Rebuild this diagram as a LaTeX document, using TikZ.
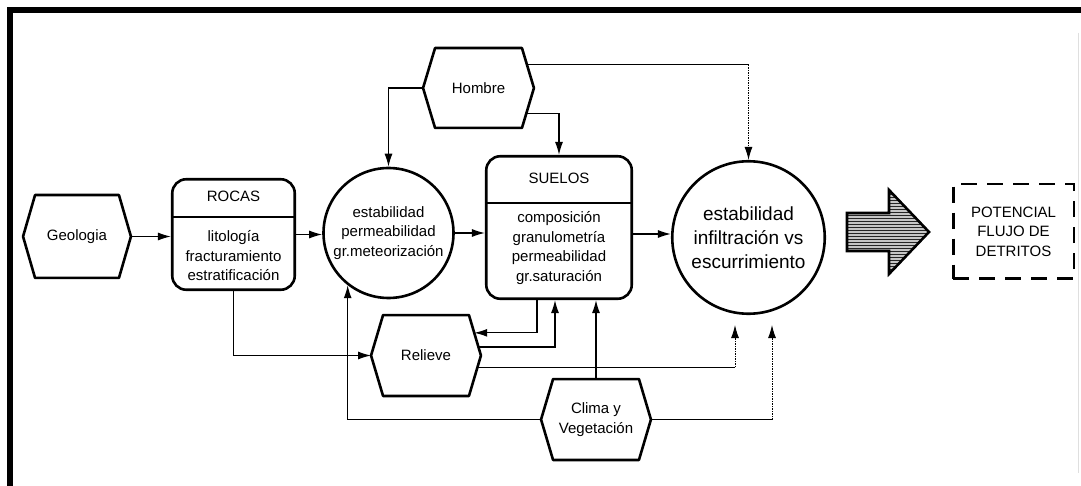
\documentclass[tikz,border=0pt]{standalone}
\usepackage{fontspec}
\setmainfont{Liberation Sans}
\usetikzlibrary{arrows.meta,calc,patterns}

% hexagon outline drawn around a (non-drawn) rectangular node
\newcommand{\hexoutline}[2]{%
  \draw[shapeline] (#1.west) -- ([xshift=#2]#1.north west) -- ([xshift=-#2]#1.north east)
    -- (#1.east) -- ([xshift=-#2]#1.south east) -- ([xshift=#2]#1.south west) -- cycle;}

\tikzset{
  shapeline/.style={line width=2.6pt, line join=round},
  conn/.style={line width=1.2pt},
  arr/.style={conn, -{Latex[length=13pt,width=8pt]}},
  faint/.style={line width=1pt, dash pattern=on 1.5pt off 1pt},
  txt/.style={font=\fontsize{15}{19.5}\selectfont, align=center, inner sep=0pt},
  bigtxt/.style={font=\fontsize{19}{24}\selectfont, align=center, inner sep=0pt},
  hexarea/.style={txt},
  roundbox/.style={draw, shapeline, rounded corners=14pt, inner sep=0pt},
  ring/.style={draw, circle, shapeline, inner sep=0pt},
  dashbox/.style={draw, line width=2.5pt, dash pattern=on 16pt off 10pt, inner sep=0pt, txt},
}

\begin{document}
\begin{tikzpicture}[x=1pt,y=-1pt]
\useasboundingbox (0,0) rectangle (1081,486);

% frame
\draw[line width=6pt] (10,486) -- (10,10) -- (1081,10);
\draw[gray!25, line width=1pt] (1078,33) -- (1078,473);

% hexagonal factors
\node[hexarea, minimum width=107.5pt, minimum height=82.5pt] (geo) at (77,236.5) {Geologia};
\node[hexarea, minimum width=110.5pt, minimum height=79.5pt] (hom) at (478.5,88) {Hombre};
\node[hexarea, minimum width=109.5pt, minimum height=80.5pt] (rel) at (426,355.5) {Relieve};
\node[hexarea, minimum width=109.5pt, minimum height=80.5pt] (clima) at (596,419.5) {Clima y\\Vegetación};
\hexoutline{geo}{12pt}
\hexoutline{hom}{12pt}
\hexoutline{rel}{12pt}
\hexoutline{clima}{12pt}

% ROCAS box
\node[roundbox, minimum width=122.5pt, minimum height=110.5pt] (rocas) at (233.5,234.5) {};
\draw[shapeline] (rocas.west |- 0,217) -- (rocas.east |- 0,217);
\node[txt] (rocasT) at (233.5,196) {ROCAS};
\node[txt] (rocasB) at (233.5,256) {litología\\fracturamiento\\estratificación};

% SUELOS box
\node[roundbox, minimum width=145.5pt, minimum height=142.5pt] (suelos) at (559,227.5) {};
\draw[shapeline] (suelos.west |- 0,203) -- (suelos.east |- 0,203);
\node[txt] (suelosT) at (559,178) {SUELOS};
\node[txt] (suelosB) at (559,248) {composición\\granulometría\\permeabilidad\\gr.saturación};

% circles
\node[ring, txt, minimum size=130pt] (c1) at (388.5,233) {estabilidad\\permeabilidad\\gr.meteorización};
\node[ring, bigtxt, minimum size=152.5pt] (c2) at (748.5,237.5) {estabilidad\\infiltración vs\\escurrimiento};

% result
\path[preaction={fill=gray!45}, pattern=horizontal lines, pattern color=gray!30!black]
  (847,213) -- (889,213) -- (889,190) -- (929,232) -- (889,274) -- (889,251) -- (847,251) -- cycle;
\draw[shapeline, line join=miter] (847,213) -- (889,213) -- (889,190) -- (929,232) -- (889,274) -- (889,251) -- (847,251) -- cycle;
\node[dashbox, minimum width=120.5pt, minimum height=94.5pt] (pot) at (1013.5,231.5) {POTENCIAL\\FLUJO DE\\DETRITOS};

% points on hexagon edges and arrow targets below c2
\coordinate (h1) at ($([xshift=-12pt]hom.north east)!0.42!(hom.east)$);
\coordinate (h2) at ($(hom.east)!0.63!([xshift=-12pt]hom.south east)$);
\coordinate (r1) at ($([xshift=-12pt]rel.north east)!0.44!(rel.east)$);
\coordinate (r2) at ($([xshift=-12pt]rel.north east)!0.79!(rel.east)$);
\coordinate (r3) at ($(rel.east)!0.29!([xshift=-12pt]rel.south east)$);
\coordinate (s1) at ($(suelos.south)+(-22,0)$);
\coordinate (s2) at ($(suelos.south)+(-4,0)$);
\coordinate (c2in1) at (735,325);
\coordinate (c2in2) at (772,325);

% main chain
\draw[arr] (geo.east) -- (geo.east -| rocas.west);
\draw[arr] (rocas.east) -- (rocas.east -| c1.west);
\draw[arr] (c1.east) -- (c1.east -| suelos.west);
\draw[arr] (suelos.east |- 0,234) -- (c2.west |- 0,234);

% Hombre
\draw[arr] (hom.west) -| (c1.north);
\draw[arr] (h2) -| (suelos.north);
\draw[conn] (h1) -- (h1 -| c2.north);
\draw[faint, -{Latex[length=13pt,width=8pt]}] (h1 -| c2.north) -- (c2.north);

% Relieve
\draw[arr] (rocas.south) |- (rel.west);
\draw[arr] (s1) |- (r1);
\draw[arr] (r2) -| (s2);
\draw[conn] (r3) -- (r3 -| c2in1);
\draw[faint, -{Latex[length=13pt,width=8pt]}] (r3 -| c2in1) -- (c2in1);

% Clima y Vegetacion
\draw[arr] (clima.north) -- (clima.north |- suelos.south);
\draw[arr] (clima.west) -| (c1.232);
\draw[conn] (clima.east) -- (clima.east -| c2in2);
\draw[faint, -{Latex[length=13pt,width=8pt]}] (clima.east -| c2in2) -- (c2in2);
\end{tikzpicture}
\end{document}
